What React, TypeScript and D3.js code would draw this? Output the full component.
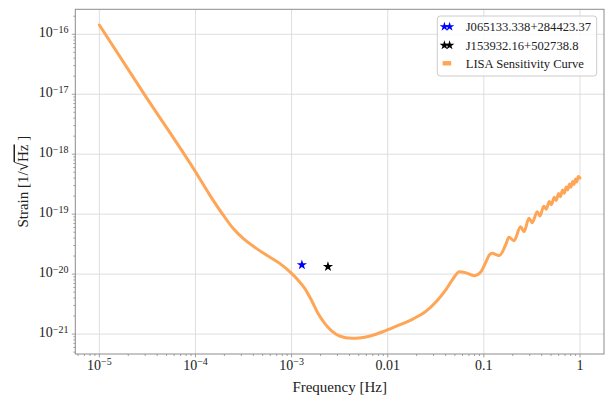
import React from "react";
import * as d3 from "d3";

// LISA sensitivity curve
const freqHz = [
  1e-5, 3e-5, 1e-4, 1.41e-4, 1.94e-4, 2.46e-4, 3.13e-4, 3.97e-4, 5.47e-4, 7.52e-4,
  1.0e-3, 1.165e-3, 1.37e-3, 1.605e-3, 1.88e-3, 2.21e-3, 2.59e-3, 3.16e-3, 4.18e-3,
  5.31e-3, 6.74e-3, 9.26e-3, 1.326e-2, 1.82e-2, 2.51e-2, 3.19e-2, 4.05e-2, 4.74e-2, 5.57e-2,
  6.53e-2, 7.97e-2, 9.35e-2, 0.1054, 0.114, 0.1225, 0.138, 0.1449, 0.1684, 0.1827,
  0.206, 0.241, 0.2615, 0.2946, 0.3189, 0.3593, 0.3834, 0.42, 0.445, 0.48,
  0.505, 0.54, 0.565, 0.6, 0.625, 0.66, 0.685, 0.72, 0.745, 0.78,
  0.805, 0.84, 0.865, 0.9, 0.925, 0.96, 1.0,
];
const strain = [
  1.43e-16, 9.5e-18, 5.1e-19, 2.08e-19, 9.7e-20, 5.81e-20, 3.95e-20, 2.94e-20, 2.08e-20, 1.51e-20,
  1.03e-20, 7.98e-21, 5.8e-21, 3.7e-21, 2.22e-21, 1.51e-21, 1.14e-21, 9.28e-22, 8.49e-22,
  8.69e-22, 9.39e-22, 1.12e-21, 1.42e-21, 1.78e-21, 2.42e-21, 3.47e-21, 5.58e-21, 8.18e-21, 1.1e-20,
  1.05e-20, 9.4e-21, 1.1e-20, 1.61e-20, 2.08e-20, 2.22e-20, 2.08e-20, 2.04e-20, 3.06e-20, 4.11e-20,
  3.61e-20, 6.18e-20, 5.09e-20, 8.53e-20, 7.2e-20, 1.1e-19, 9.31e-20, 1.36e-19, 1.21e-19, 1.63e-19,
  1.44e-19, 1.92e-19, 1.69e-19, 2.21e-19, 1.96e-19, 2.53e-19, 2.23e-19, 2.85e-19, 2.53e-19, 3.18e-19,
  2.81e-19, 3.52e-19, 3.13e-19, 3.86e-19, 3.43e-19, 4.23e-19, 4.01e-19,
];

// Sources
const sourceNames = ["J065133.338+284423.37", "J153932.16+502738.8"];
const sourceFreq = [1.28e-3, 2.39e-3];
const sourceStrain = [1.42e-20, 1.33e-20];
const sourceColors = ["#0000ff", "#000000"];
const curveLabel = "LISA Sensitivity Curve";

// Ticks
const xMajorTicks = [1e-5, 1e-4, 1e-3, 1e-2, 1e-1, 1];
const xTickBase = ["10", "10", "10", "0.01", "0.1", "1"];
const xTickExp = ["−5", "−4", "−3", "", "", ""];
const yMajorTicks = [1e-21, 1e-20, 1e-19, 1e-18, 1e-17, 1e-16];
const yTickBase = ["10", "10", "10", "10", "10", "10"];
const yTickExp = ["−21", "−20", "−19", "−18", "−17", "−16"];
const xLabel = "Frequency [Hz]";

const W = 605;
const H = 396;
const M = { left: 75.3, right: 604, top: 9.3, bottom: 354 };
const FONT = "'Liberation Serif', 'DejaVu Serif', serif";
const LINE_COLOR = "#ffa556";
const AXIS_COLOR = "#8c8c8c";
const GRID_COLOR = "#dedede";

function logDomain(vals: number[]) {
  const lo = Math.log10(d3.min(vals) as number);
  const hi = Math.log10(d3.max(vals) as number);
  const pad = (hi - lo) * 0.05;
  return [Math.pow(10, lo - pad), Math.pow(10, hi + pad)];
}

function starPath(r: number) {
  const ka = 0.8908130915292852;
  return d3.symbol(d3.symbolStar, (r * r) / ka)() as string;
}

export default function App() {
  const x = d3.scaleLog().domain(logDomain(freqHz)).range([M.left, M.right]);
  const y = d3.scaleLog().domain(logDomain(strain)).range([M.bottom, M.top]);

  const pts: [number, number][] = freqHz.map((f, i) => [x(f), y(strain[i])]);
  const line = d3.line().curve(d3.curveMonotoneX)(pts) as string;

  const [x0, x1] = x.domain();
  const [y0, y1] = y.domain();
  const xMinor: number[] = [];
  for (let e = -6; e <= 0; e++)
    for (let m = 2; m <= 9; m++) {
      const v = m * Math.pow(10, e);
      if (v >= x0 && v <= x1) xMinor.push(v);
    }
  const yMinor: number[] = [];
  for (let e = -22; e <= -16; e++)
    for (let m = 2; m <= 9; m++) {
      const v = m * Math.pow(10, e);
      if (v >= y0 && v <= y1) yMinor.push(v);
    }

  const star = starPath(5.4);
  const legStar = starPath(5);
  const legX = 437.3;
  const legY = 16;
  const legW = 159.4;
  const legH = 60;
  const rowY = [26.7, 45.3, 63.3];

  return (
    <svg
      width={W}
      height={H}
      style={{ position: "absolute", left: 0, top: 0, background: "#fff" }}
      fontFamily={FONT}
    >
      <rect x={0} y={0} width={W} height={H} fill="#fff" />
      {/* grid */}
      <g stroke={GRID_COLOR} strokeWidth={1}>
        {xMajorTicks.map((t, i) => (
          <line key={"gx" + i} x1={x(t)} x2={x(t)} y1={M.top} y2={M.bottom} />
        ))}
        {yMajorTicks.map((t, i) => (
          <line key={"gy" + i} x1={M.left} x2={M.right} y1={y(t)} y2={y(t)} />
        ))}
      </g>

      {/* curve */}
      <path d={line} fill="none" stroke={LINE_COLOR} strokeWidth={3} strokeLinejoin="round" strokeLinecap="round" />

      {/* sources */}
      {sourceFreq.map((f, i) => (
        <path key={"s" + i} d={star} transform={`translate(${x(f)},${y(sourceStrain[i])})`} fill={sourceColors[i]} />
      ))}

      {/* spines */}
      <rect
        x={M.left}
        y={M.top}
        width={M.right - M.left}
        height={M.bottom - M.top}
        fill="none"
        stroke={AXIS_COLOR}
        strokeWidth={1}
      />

      {/* ticks */}
      <g stroke={AXIS_COLOR} strokeWidth={0.8}>
        {xMajorTicks.map((t, i) => (
          <line key={"tx" + i} x1={x(t)} x2={x(t)} y1={M.bottom} y2={M.bottom + 3.5} />
        ))}
        {xMinor.map((t, i) => (
          <line key={"mx" + i} x1={x(t)} x2={x(t)} y1={M.bottom} y2={M.bottom + 2} />
        ))}
        {yMajorTicks.map((t, i) => (
          <line key={"ty" + i} x1={M.left - 3.5} x2={M.left} y1={y(t)} y2={y(t)} />
        ))}
        {yMinor.map((t, i) => (
          <line key={"my" + i} x1={M.left - 2} x2={M.left} y1={y(t)} y2={y(t)} />
        ))}
      </g>

      {/* tick labels */}
      <g fill="#222">
        {xMajorTicks.map((t, i) => (
          <text key={"lx" + i} x={x(t)} y={370} textAnchor="middle" fontSize={14}>
            {xTickBase[i]}
            {xTickExp[i] ? (
              <tspan fontSize={10} dy={-5}>
                {xTickExp[i]}
              </tspan>
            ) : null}
          </text>
        ))}
        {yMajorTicks.map((t, i) => (
          <text key={"ly" + i} x={68.5} y={y(t) + 3.2} textAnchor="end" fontSize={14}>
            {yTickBase[i]}
            <tspan fontSize={10} dy={-4.5}>
              {yTickExp[i]}
            </tspan>
          </text>
        ))}
      </g>

      {/* axis labels */}
      <text x={(M.left + M.right) / 2} y={392} textAnchor="middle" fontSize={15} fill="#222">
        {xLabel}
      </text>
      <text
        transform={`translate(27.5,${(M.top + M.bottom) / 2}) rotate(-90)`}
        textAnchor="middle"
        fontSize={15}
        fill="#222"
      >
        <tspan>Strain [1/</tspan>
        <tspan fontSize={17}>√</tspan>
        <tspan textDecoration="overline">Hz</tspan>
        <tspan> ]</tspan>
      </text>

      {/* legend */}
      <rect
        x={legX}
        y={legY}
        width={legW}
        height={legH}
        rx={3}
        fill="#fff"
        fillOpacity={0.8}
        stroke="#cccccc"
        strokeWidth={1}
      />
      {sourceNames.map((n, i) => (
        <g key={"lg" + i}>
          <path d={legStar} transform={`translate(444.4,${rowY[i]})`} fill={sourceColors[i]} />
          <path d={legStar} transform={`translate(449.6,${rowY[i]})`} fill={sourceColors[i]} />
          <text x={465.7} y={rowY[i] + 4.3} fontSize={12.6} fill="#222">
            {n}
          </text>
        </g>
      ))}
      <rect x={442.6} y={rowY[2] - 2.2} width={8.6} height={4.4} fill={LINE_COLOR} />
      <text x={465.7} y={rowY[2] + 4.3} fontSize={12.6} fill="#222">
        {curveLabel}
      </text>
    </svg>
  );
}
